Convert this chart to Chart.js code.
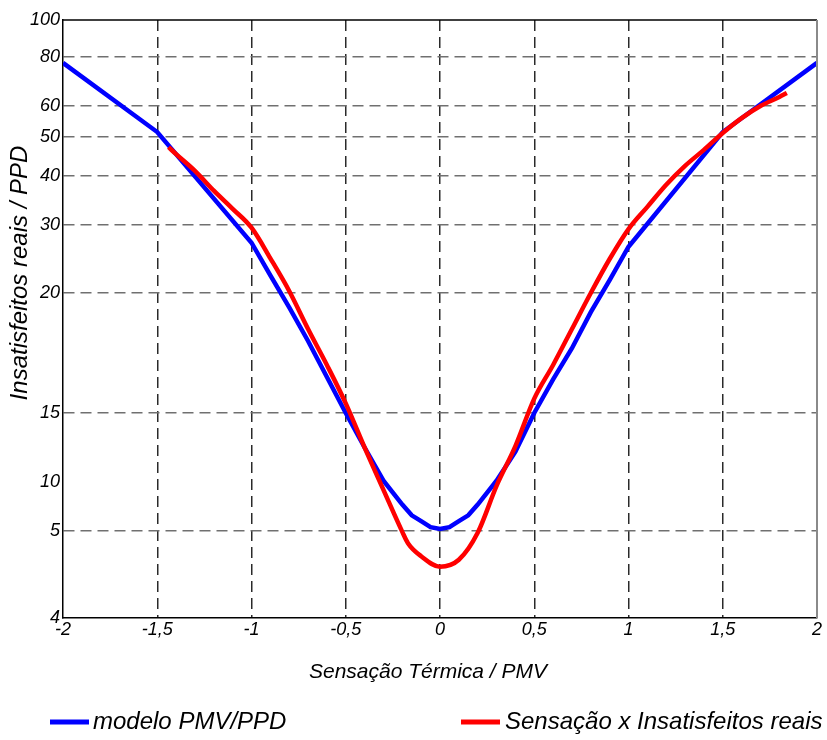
<!DOCTYPE html>
<html>
<head>
<meta charset="utf-8">
<script src="https://cdn.jsdelivr.net/npm/chart.js@4.4.1/dist/chart.umd.min.js"></script>
<style>
  html, body { margin: 0; background: #fff; }
  canvas { display: block; }
</style>
</head>
<body>
<canvas id="ppdChart" width="827" height="740"></canvas>
<script>
// --- data ---
const PMV_MODEL = [-2, -1.5, -1, -0.9, -0.8, -0.7, -0.6, -0.5, -0.4, -0.3, -0.2, -0.15, -0.1, -0.05, 0,
                   0.05, 0.1, 0.15, 0.2, 0.3, 0.4, 0.5, 0.6, 0.7, 0.8, 0.9, 1, 1.5, 2];
const PPD_MODEL = [77.6, 51.6, 27.4, 22.6, 19.4, 18.0, 16.5, 15.0, 12.5, 10.1, 7.7, 6.6, 6.0, 5.4, 5.2,
                   5.4, 6.0, 6.6, 7.7, 10.1, 12.2, 15.0, 16.4, 17.7, 19.2, 21.9, 26.8, 51.6, 77.6];

const PMV_REAL = [-1.44, -1.4, -1.3, -1.2, -1.1, -1, -0.9, -0.8, -0.7, -0.6, -0.5, -0.4, -0.3, -0.2, -0.17,
                  -0.1, 0, 0.1, 0.2, 0.3, 0.4, 0.5, 0.6, 0.7, 0.8, 0.9, 1, 1.1, 1.2, 1.3, 1.4, 1.5,
                  1.6, 1.7, 1.8, 1.84];
const PPD_REAL = [47.4, 45.6, 41.3, 37.0, 33.3, 29.6, 25.1, 20.3, 18.5, 17.0, 15.4, 12.5, 9.2, 4.99, 4.86,
                  4.71, 4.59, 4.67, 4.98, 9.6, 12.6, 15.6, 17.0, 18.5, 20.0, 25.0, 29.4, 33.7, 38.2, 42.6, 46.7, 51.3,
                  56.1, 60.0, 63.7, 65.3];

const SERIES_LABELS = ['modelo PMV/PPD', 'Sensação x Insatisfeitos reais'];
const X_TITLE = 'Sensação Térmica / PMV';
const Y_TITLE = 'Insatisfeitos reais / PPD';

const X_MIN = -2, X_MAX = 2, X_STEP = 0.5;
const Y_TICKS = [4, 5, 10, 15, 20, 30, 40, 50, 60, 80, 100];
const Y_NO_GRID = [4, 10, 100];

// the original y axis is irregular: where each tick sits, as a fraction of the axis height
const Y_STOPS = [0, 87, 136, 205, 325, 393, 442, 481, 512, 561, 598].map(h => h / 598);

const FONT = "'Liberation Sans', Arial, sans-serif";

// piecewise axis: linear between consecutive ticks
function stopFraction(v) {
  if (v <= Y_TICKS[0]) return 0;
  for (let i = 1; i < Y_TICKS.length; i++) {
    if (v <= Y_TICKS[i]) {
      const t = (v - Y_TICKS[i - 1]) / (Y_TICKS[i] - Y_TICKS[i - 1]);
      return Y_STOPS[i - 1] + t * (Y_STOPS[i] - Y_STOPS[i - 1]);
    }
  }
  return 1;
}
function stopValue(f) {
  for (let i = 1; i < Y_STOPS.length; i++) {
    if (f <= Y_STOPS[i]) {
      const t = (f - Y_STOPS[i - 1]) / (Y_STOPS[i] - Y_STOPS[i - 1]);
      return Y_TICKS[i - 1] + t * (Y_TICKS[i] - Y_TICKS[i - 1]);
    }
  }
  return Y_TICKS[Y_TICKS.length - 1];
}

class StopScale extends Chart.LinearScale {
  determineDataLimits() {
    this.min = Y_TICKS[0];
    this.max = Y_TICKS[Y_TICKS.length - 1];
  }
  buildTicks() {
    return Y_TICKS.map(value => ({ value }));
  }
  getPixelForValue(v) {
    return this.getPixelForDecimal(stopFraction(v));
  }
  getValueForPixel(px) {
    return stopValue(this.getDecimalForPixel(px));
  }
}
StopScale.id = 'stops';
StopScale.defaults = {};
Chart.register(StopScale);

// frame on top/right (left/bottom come from the axis borders)
const framePlugin = {
  id: 'frame',
  afterDatasetsDraw(chart) {
    const { ctx, chartArea: a } = chart;
    ctx.save();
    ctx.lineWidth = 1.5;
    ctx.strokeStyle = '#000';
    ctx.beginPath(); ctx.moveTo(a.left, a.top); ctx.lineTo(a.right, a.top); ctx.stroke();
    ctx.strokeStyle = '#8a8a8a';
    ctx.lineWidth = 2;
    ctx.beginPath(); ctx.moveTo(a.right, a.top); ctx.lineTo(a.right, a.bottom); ctx.stroke();
    ctx.restore();
  }
};

// axis titles are a little off-centre in the original, so they are placed by hand
const titlesPlugin = {
  id: 'axisTitles',
  afterDraw(chart) {
    const { ctx } = chart;
    ctx.save();
    ctx.fillStyle = '#000';
    ctx.textAlign = 'center';
    ctx.textBaseline = 'middle';
    ctx.font = `italic 21px ${FONT}`;
    ctx.fillText(X_TITLE, 428, 672);
    ctx.translate(20, 273);
    ctx.rotate(-Math.PI / 2);
    ctx.font = `italic 24px ${FONT}`;
    ctx.fillText(Y_TITLE, 0, 0);
    ctx.restore();
  }
};

// legend: two widely spaced items at the bottom
const legendSlots = [{ x: 50, text: 93 }, { x: 461, text: 505 }];
const legendPlugin = {
  id: 'wideLegend',
  afterDraw(chart) {
    const { ctx } = chart;
    const y = 722;
    ctx.save();
    ctx.font = `italic 24px ${FONT}`;
    ctx.textBaseline = 'middle';
    ctx.textAlign = 'left';
    chart.data.datasets.forEach((ds, i) => {
      const slot = legendSlots[i];
      ctx.strokeStyle = ds.borderColor;
      ctx.lineWidth = 5;
      ctx.beginPath(); ctx.moveTo(slot.x, y); ctx.lineTo(slot.x + 39, y); ctx.stroke();
      ctx.fillStyle = '#000';
      ctx.fillText(ds.label, slot.text, y);
    });
    ctx.restore();
  }
};

const xy = (xs, ys) => xs.map((x, i) => ({ x, y: ys[i] }));
const lastIndexOf = (ctx) => ctx.scale.ticks.length - 1;

new Chart(document.getElementById('ppdChart'), {
  type: 'line',
  data: {
    datasets: [
      {
        label: SERIES_LABELS[0],
        data: xy(PMV_MODEL, PPD_MODEL),
        borderColor: '#0000ff', borderWidth: 4.5,
        pointRadius: 0, tension: 0, order: 1,
      },
      {
        label: SERIES_LABELS[1],
        data: xy(PMV_REAL, PPD_REAL),
        borderColor: '#ff0000', borderWidth: 4.5,
        pointRadius: 0, cubicInterpolationMode: 'monotone', order: 0,
      }
    ]
  },
  options: {
    responsive: false, animation: false,
    layout: { padding: { top: 20, right: 10, bottom: 56, left: 0 } },
    plugins: { legend: { display: false }, tooltip: { enabled: false } },
    scales: {
      x: {
        type: 'linear', min: X_MIN, max: X_MAX,
        afterFit: s => { s.height = 66; },
        ticks: {
          stepSize: X_STEP, autoSkip: false, maxRotation: 0, padding: 1,
          color: '#000', font: { family: FONT, size: 18, style: 'italic' },
          callback: v => String(v).replace('.', ',')
        },
        grid: {
          drawTicks: false, lineWidth: 1.5,
          color: c => (c.index === 0 || c.index === lastIndexOf(c)) ? 'rgba(0,0,0,0)' : '#2a2a2a'
        },
        border: { display: true, color: '#000', width: 1.5, dash: [11, 6] },
        title: { display: false }
      },
      y: {
        type: 'stops',
        afterFit: s => { s.width = 63; },
        ticks: {
          autoSkip: false, padding: 3,
          color: '#000', font: { family: FONT, size: 18, style: 'italic' },
          callback: v => String(v)
        },
        grid: {
          drawTicks: false, lineWidth: 1.5,
          color: c => (c.tick && Y_NO_GRID.includes(c.tick.value)) ? 'rgba(0,0,0,0)' : '#707070'
        },
        border: { display: true, color: '#000', width: 1.5, dash: [11, 6] },
        title: { display: false }
      }
    }
  },
  plugins: [framePlugin, titlesPlugin, legendPlugin]
});
</script>
</body>
</html>
